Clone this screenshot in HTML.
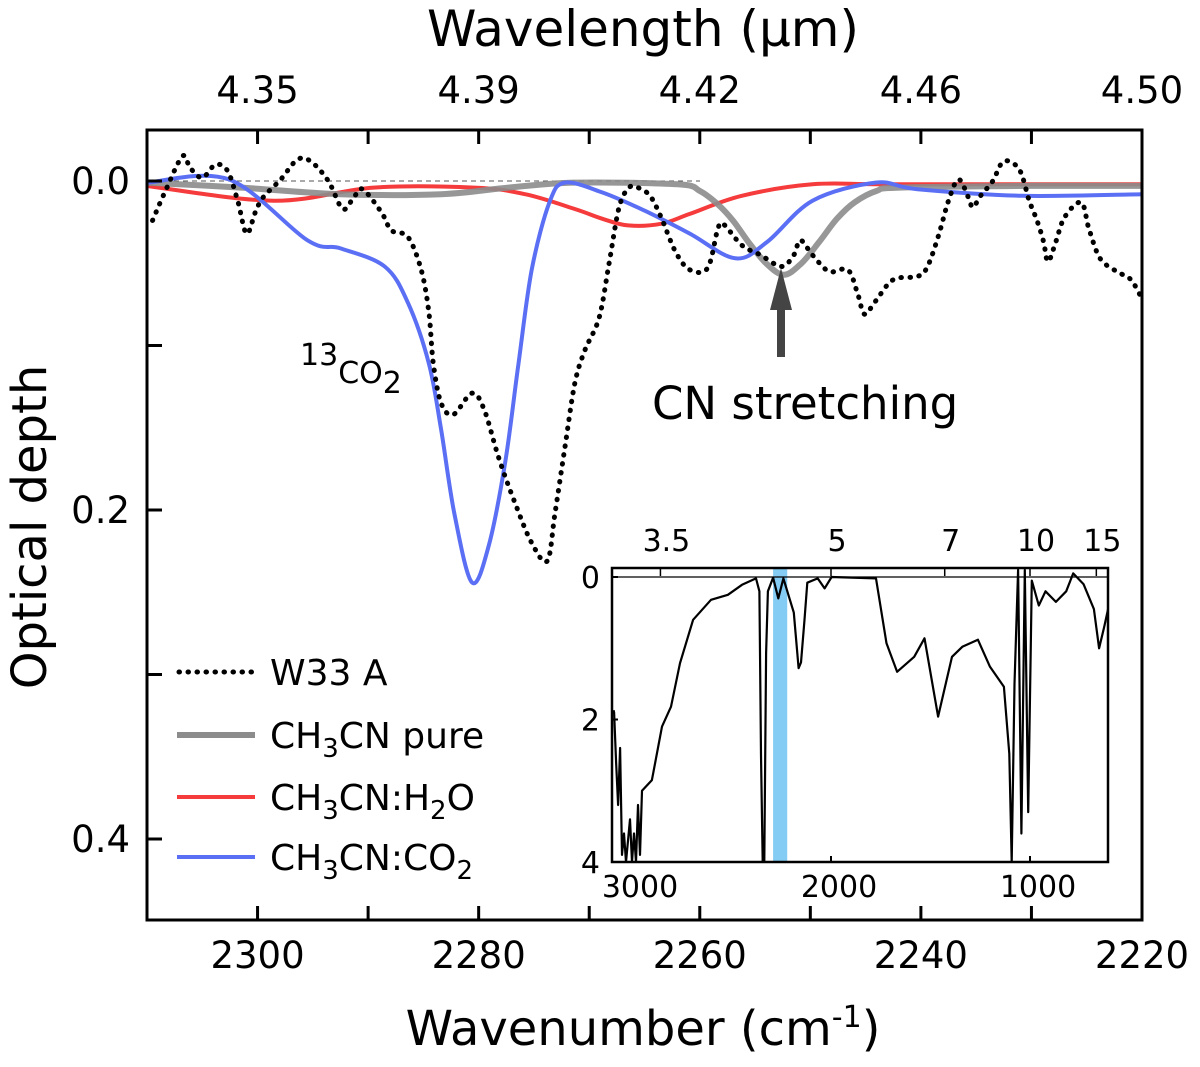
<!DOCTYPE html>
<html><head><meta charset="utf-8"><style>
body{margin:0;background:#fff}
svg text{font-family:"DejaVu Sans","Liberation Sans",sans-serif;fill:#000}
</style></head><body>
<svg id="chart" width="1200" height="1062" viewBox="0 0 1200 1062" xmlns="http://www.w3.org/2000/svg">
<g id="main"></g>
<g id="inset"></g>
</svg>
<script>
// ---- main plot data (wavenumber cm-1, optical depth) ----
const w33Wn=[2309.5,2308.4,2306.8,2306.1,2305,2303.8,2302.7,2301.8,2301,2300.2,2299.5,2297.9,2296.4,2295.2,2293.6,2292.3,2291.3,2290.5,2288.8,2287.9,2286.4,2285.2,2284.5,2284.1,2283.4,2282.3,2280.6,2279.5,2278.2,2276.7,2275.2,2273.8,2273.1,2272.2,2271.3,2270.4,2269.1,2268.2,2267.3,2266.4,2265.6,2264.5,2263.5,2262.2,2260.9,2259.3,2258.4,2257.9,2256.2,2254.5,2252.6,2251.5,2250.9,2249.8,2248.3,2246.6,2245.7,2245.1,2244.1,2242.5,2240.3,2239.4,2238.4,2237.5,2236.6,2235.7,2235.3,2234.6,2233.5,2232.5,2231.1,2230.2,2229.5,2228.9,2228.5,2227.8,2227,2225.5,2224.8,2223.8,2222.3,2221,2219.9];
const w33Tau=[0.024,0.007,-0.015,-0.008,-0.002,-0.01,-0.006,0.012,0.032,0.019,0.01,-0.001,-0.013,-0.012,0,0.017,0.01,0.005,0.019,0.03,0.034,0.054,0.08,0.111,0.135,0.142,0.129,0.139,0.168,0.196,0.22,0.231,0.202,0.162,0.123,0.103,0.083,0.05,0.016,0.004,0.004,0.009,0.022,0.043,0.054,0.053,0.03,0.026,0.039,0.045,0.052,0.045,0.036,0.045,0.055,0.054,0.069,0.081,0.073,0.06,0.058,0.052,0.033,0.012,-0.001,0.01,0.016,0.009,0,-0.012,-0.007,0.012,0.024,0.037,0.049,0.037,0.022,0.013,0.029,0.047,0.055,0.06,0.073];
const pureWn=[2310,2301.5,2292.5,2283.4,2277.3,2271.3,2262,2260,2258.4,2257,2255.5,2254,2252.4,2250.8,2249.2,2247.6,2246,2244,2241.9,2230,2220];
const pureTau=[0.001,0.004,0.008,0.008,0.004,0.001,0.002,0.006,0.014,0.024,0.038,0.05,0.057,0.05,0.037,0.023,0.013,0.006,0.004,0.003,0.003];
const h2oWn=[2310,2298.5,2289.5,2280.4,2275.8,2271.3,2268.8,2266.5,2263.5,2260.9,2256.2,2249.8,2243.5,2230,2220];
const h2oTau=[0.003,0.012,0.004,0.004,0.008,0.017,0.023,0.027,0.026,0.02,0.009,0.002,0.002,0.002,0.002];
const co2Wn=[2310,2302.6,2295.5,2292.5,2288.5,2286.4,2284.5,2283.4,2282.2,2280.6,2279.1,2277.6,2276.4,2275.2,2273.6,2272.2,2268.8,2265,2260.9,2256.8,2253.9,2249.8,2244.1,2240.3,2230.8,2219.9];
const co2Tau=[0.001,-0.001,0.036,0.041,0.052,0.074,0.111,0.151,0.202,0.244,0.222,0.171,0.111,0.054,0.013,0.001,0.007,0.018,0.032,0.047,0.037,0.012,0.001,0.005,0.009,0.008];
const xTicks=[2300,2290,2280,2270,2260,2250,2240,2230,2220];
const xTickLabels=["2300","2280","2260","2240","2220"];
const topLabels=["4.35","4.39","4.42","4.46","4.50"];
const yTicks=[0,0.1,0.2,0.3,0.4];
const yTickLabels=["0.0","0.2","0.4"];
// ---- inset data ----
const insWn=[3093,3090,3080,3070,3060,3050,3040,3030,3010,3000,2990,2980,2970,2960,2950,2900,2849,2804,2759,2693,2603,2518,2447,2377,2360,2352,2343,2335,2326,2317,2291,2265,2239,2187,2163,2151,2133,2119,2067,2032,1997,1774,1721,1668,1582,1530,1462,1392,1340,1262,1201,1131,1104,1092,1078,1060,1043,1026,1009,991,956,922,870,818,783,731,679,653,627,592];
const insTau=[1.87,1.9,2.6,3.2,2.4,3.9,3.6,4,3.4,4,3.6,4,3.2,3.9,3.0,2.85,2.1,1.82,1.21,0.6,0.32,0.25,0.11,0.02,0.2,2.5,4,4,1.07,0.2,0.01,0.3,0.02,0.5,1.28,1.2,0.6,0.08,0.02,0.16,0,0.02,0.93,1.33,1.12,0.86,1.96,1.12,0.98,0.88,1.26,1.54,2.48,4,1.5,-0.1,3.6,-0.1,3.3,0.05,0.4,0.2,0.35,0.2,-0.05,0.1,0.45,1.0,0.7,0.25];
const insBottom=[3000,2000,1000];
const insTop=[3.5,5,7,10,15];
const insY=[0,2,4];

const NS="http://www.w3.org/2000/svg";
function mk(p,t,a){const e=document.createElementNS(NS,t);for(const k in a)e.setAttribute(k,a[k]);p.appendChild(e);return e;}
const main=document.getElementById('main');
const L=147,R=1142,T=130,B=920;
const X=w=>L+(2310-w)*(R-L)/90;
const Y=t=>181+t*1645;
const defs=mk(document.getElementById('chart'),'defs',{});
const cp=mk(defs,'clipPath',{id:'mc'});mk(cp,'rect',{x:L,y:T,width:R-L,height:B-T});
const cp2=mk(defs,'clipPath',{id:'ic'});
const IL=612,IR=1108,IT=568,IB=862;
const IX=w=>831+(2000-w)*0.199;
const IY=t=>577+t*71.25;
mk(cp2,'rect',{x:IL,y:IT,width:IR-IL,height:IB-IT});

let zl=mk(main,'line',{x1:L,x2:700,y1:Y(0),y2:Y(0),stroke:'#555','stroke-width':1,'stroke-dasharray':'5 4'});


const curves=mk(main,'g',{'clip-path':'url(#mc)'});
function path(ws,ts,fx,fy){return ws.map((w,i)=>(i?'L':'M')+fx(w).toFixed(1)+','+fy(ts[i]).toFixed(1)).join('');}
function smooth(ws,ts,fx,fy){const p=ws.map((w,i)=>[fx(w),fy(ts[i])]);let d='M'+p[0][0]+','+p[0][1];for(let i=0;i<p.length-1;i++){const p0=p[i-1]||p[i],p1=p[i],p2=p[i+1],p3=p[i+2]||p2;d+='C'+(p1[0]+(p2[0]-p0[0])/6).toFixed(1)+','+(p1[1]+(p2[1]-p0[1])/6).toFixed(1)+' '+(p2[0]-(p3[0]-p1[0])/6).toFixed(1)+','+(p2[1]-(p3[1]-p1[1])/6).toFixed(1)+' '+p2[0].toFixed(1)+','+p2[1].toFixed(1);}return d;}
let c;
c=mk(curves,'path',{d:smooth(h2oWn,h2oTau,X,Y),fill:'none',stroke:'#f53b3b','stroke-width':4});


c=mk(curves,'path',{d:smooth(pureWn,pureTau,X,Y),fill:'none',stroke:'#8c8c8c','stroke-width':6,opacity:0.9});


c=mk(curves,'path',{d:smooth(co2Wn,co2Tau,X,Y),fill:'none',stroke:'#5b6ff5','stroke-width':4});


c=mk(curves,'path',{d:smooth(w33Wn,w33Tau,X,Y),fill:'none',stroke:'#000','stroke-width':5,'stroke-dasharray':'0.5 8.5','stroke-linecap':'round'});


c=mk(main,'rect',{x:L,y:T,width:R-L,height:B-T,fill:'none',stroke:'#000','stroke-width':3});


xTicks.forEach(w=>{mk(main,'line',{x1:X(w),x2:X(w),y1:B,y2:B-14,stroke:'#000','stroke-width':3});mk(main,'line',{x1:X(w),x2:X(w),y1:T,y2:T+14,stroke:'#000','stroke-width':3});});
yTicks.forEach(t=>{mk(main,'line',{x1:L,x2:L+15,y1:Y(t),y2:Y(t),stroke:'#000','stroke-width':3});});
xTickLabels.forEach((s,i)=>{const e=mk(main,'text',{x:X(xTicks[i*2]),y:968,'font-size':37,'text-anchor':'middle'});e.textContent=s;});
topLabels.forEach((s,i)=>{const e=mk(main,'text',{x:X(xTicks[i*2]),y:103,'font-size':37,'text-anchor':'middle'});e.textContent=s;});
yTickLabels.forEach((s,i)=>{const e=mk(main,'text',{x:130,y:Y(yTicks[i*2])+13,'font-size':37,'text-anchor':'end'});e.textContent=s;});
c=mk(main,'g',{});
mk(c,'rect',{x:777,y:305,width:8,height:52,fill:'#444'});
mk(c,'polygon',{points:'781,268 770,310 792,310',fill:'#444'});
const leg=[['W33 A','#000','dot'],['CH<tspan font-size="26" dy="9">3</tspan><tspan dy="-9">CN pure</tspan>','#8c8c8c',''],['CH<tspan font-size="26" dy="9">3</tspan><tspan dy="-9">CN:H</tspan><tspan font-size="26" dy="9">2</tspan><tspan dy="-9">O</tspan>','#f53b3b',''],['CH<tspan font-size="26" dy="9">3</tspan><tspan dy="-9">CN:CO</tspan><tspan font-size="26" dy="9">2</tspan>','#5b6ff5','']];
const legY=[672,735,797,857];
leg.forEach((l,i)=>{const g=mk(main,'g',{});
 mk(g,'line',l[2]?{x1:179,x2:255,y1:legY[i],y2:legY[i],stroke:l[1],'stroke-width':5,'stroke-dasharray':'0.5 8.5','stroke-linecap':'round'}:{x1:177,x2:255,y1:legY[i],y2:legY[i],stroke:l[1],'stroke-width':l[1]=='#8c8c8c'?6:4});
 const t=mk(g,'text',{x:270,y:legY[i]+13,'font-size':36});t.innerHTML=l[0];});

const ins=document.getElementById('inset');
mk(ins,'rect',{x:IL,y:IT,width:IR-IL,height:IB-IT,fill:'#fff'});
c=mk(ins,'rect',{x:IX(2291),y:IT,width:IX(2220)-IX(2291),height:IB-IT,fill:'#6ec3f2',opacity:0.85});


mk(ins,'line',{x1:IL,x2:IR,y1:IY(0),y2:IY(0),stroke:'#000','stroke-width':1.2});
const ig=mk(ins,'g',{'clip-path':'url(#ic)'});
c=mk(ig,'path',{d:path(insWn,insTau,IX,IY),fill:'none',stroke:'#000','stroke-width':2.2,'stroke-linejoin':'round'});


c=mk(ins,'rect',{x:IL,y:IT,width:IR-IL,height:IB-IT,fill:'none',stroke:'#000','stroke-width':2.5});


insBottom.forEach(w=>{mk(ins,'line',{x1:IX(w),x2:IX(w),y1:IB,y2:IB-6,stroke:'#000','stroke-width':2});const e=mk(ins,'text',{x:IX(w)+8,y:897,'font-size':30,'text-anchor':'middle'});e.textContent=w;});
insTop.forEach(v=>{const x=IX(1e4/v);mk(ins,'line',{x1:x,x2:x,y1:IT,y2:IT+8,stroke:'#000','stroke-width':1.5});const e=mk(ins,'text',{x:x+6,y:551,'font-size':30,'text-anchor':'middle'});e.textContent=v;});
insY.forEach(t=>{mk(ins,'line',{x1:IL,x2:IL+6,y1:IY(t),y2:IY(t),stroke:'#000','stroke-width':2});const e=mk(ins,'text',{x:600,y:Math.min(IY(t),IB)+11,'font-size':30,'text-anchor':'end'});e.textContent=t;});
</script>
<svg style="position:absolute;left:0;top:0" width="1200" height="1062" xmlns="http://www.w3.org/2000/svg">
<text x="643" y="46" font-size="50" text-anchor="middle" font-family="DejaVu Sans, Liberation Sans, sans-serif">Wavelength (μm)</text>
<text x="643" y="1045" font-size="48" text-anchor="middle" font-family="DejaVu Sans, Liberation Sans, sans-serif">Wavenumber (cm<tspan font-size="30" dy="-18">-1</tspan><tspan dy="18">)</tspan></text>
<text transform="translate(46,527) rotate(-90)" font-size="48" text-anchor="middle" font-family="DejaVu Sans, Liberation Sans, sans-serif">Optical depth</text>
<text x="300" y="365" font-size="30" font-family="DejaVu Sans, Liberation Sans, sans-serif">13<tspan dy="18">CO</tspan><tspan dy="10">2</tspan></text>
<text x="652" y="419" font-size="45" font-weight="500" font-family="DejaVu Sans, Liberation Sans, sans-serif">CN stretching</text>
</svg>
</body></html>
